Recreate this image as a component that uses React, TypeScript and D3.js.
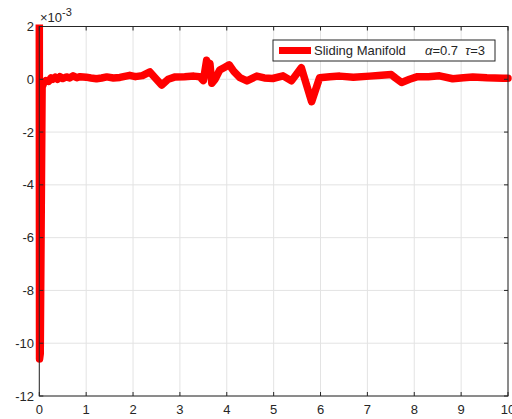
import React from "react";
import * as d3 from "d3";

const tValues = [0, 0.005, 0.02, 0.06, 0.1, 0.14, 0.2, 0.25, 0.29, 0.34, 0.39, 0.44, 0.5, 0.58, 0.65, 0.72, 0.8, 0.87, 1.0, 1.1, 1.22, 1.33, 1.44, 1.58, 1.72, 1.85, 1.93, 2.05, 2.2, 2.36, 2.45, 2.61, 2.75, 2.9, 3.1, 3.3, 3.42, 3.5, 3.57, 3.61, 3.64, 3.68, 3.75, 3.85, 3.95, 4.05, 4.15, 4.28, 4.43, 4.64, 4.8, 4.98, 5.2, 5.38, 5.59, 5.81, 5.98, 6.2, 6.41, 6.7, 7.05, 7.3, 7.51, 7.6, 7.73, 7.9, 8.07, 8.3, 8.54, 8.82, 9.05, 9.25, 9.55, 9.89, 10];
const sValues = [2.5, -10.6, -10.4, -0.3, -0.12, -0.05, -0.08, 0.05, 0.0, 0.08, 0.0, 0.1, 0.03, 0.09, 0.05, 0.13, 0.06, 0.1, 0.08, 0.05, 0.02, 0.05, 0.09, 0.05, 0.07, 0.12, 0.15, 0.1, 0.14, 0.28, 0.1, -0.22, 0.0, 0.09, 0.1, 0.12, 0.1, -0.05, 0.72, 0.4, 0.6, -0.15, 0.0, 0.35, 0.45, 0.55, 0.3, 0.06, -0.06, 0.12, 0.05, 0.03, 0.13, -0.06, 0.44, -0.85, 0.06, 0.1, 0.12, 0.08, 0.12, 0.15, 0.18, 0.05, -0.12, 0.0, 0.1, 0.1, 0.13, 0.02, 0.06, 0.09, 0.06, 0.04, 0.04];

const xTicks = [0, 1, 2, 3, 4, 5, 6, 7, 8, 9, 10];
const yTicks = [2, 0, -2, -4, -6, -8, -10, -12];
const legendLabel = "Sliding Manifold";

export default function App() {
  const left = 39.3, right = 508, top = 26.5, bottom = 396;
  const x = d3.scaleLinear().domain([0, 10]).range([left, right]);
  const y = d3.scaleLinear().domain([-12, 2]).range([bottom, top]);
  const line = d3.line<number>().x((_, i) => x(tValues[i])).y((d) => y(d));
  const path = line(sValues) || "";
  const font = "'Liberation Sans', Arial, sans-serif";
  const axisColor = "#262626";
  return (
    <svg width={512} height={419} style={{ position: "absolute", left: 0, top: 0, background: "#fff" }} fontFamily={font}>
      <rect x={0} y={0} width={512} height={419} fill="#fff" />
      <defs>
        <clipPath id="plot">
          <rect x={left - 6} y={top - 2} width={right - left + 10} height={bottom - top + 4} />
        </clipPath>
      </defs>
      {xTicks.map((t) => (
        <line key={"gx" + t} x1={x(t)} x2={x(t)} y1={top} y2={bottom} stroke="#e3e3e3" strokeWidth={1} />
      ))}
      {yTicks.map((t) => (
        <line key={"gy" + t} x1={left} x2={right} y1={y(t)} y2={y(t)} stroke="#e3e3e3" strokeWidth={1} />
      ))}
      <path d={path} fill="none" stroke="#ff0000" strokeWidth={7.5} strokeLinejoin="round" strokeLinecap="round" clipPath="url(#plot)" />
      <rect x={left} y={top} width={right - left} height={bottom - top} fill="none" stroke={axisColor} strokeWidth={1} />
      {xTicks.map((t) => (
        <g key={"xt" + t}>
          <line x1={x(t)} x2={x(t)} y1={bottom} y2={bottom - 4} stroke={axisColor} />
          <line x1={x(t)} x2={x(t)} y1={top} y2={top + 4} stroke={axisColor} />
          <text x={x(t)} y={414} textAnchor="middle" fontSize={13} fill={axisColor}>{t}</text>
        </g>
      ))}
      {yTicks.map((t) => (
        <g key={"yt" + t}>
          <line x1={left} x2={left + 4} y1={y(t)} y2={y(t)} stroke={axisColor} />
          <line x1={right} x2={right - 4} y1={y(t)} y2={y(t)} stroke={axisColor} />
          <text x={34} y={y(t) + 4.5} textAnchor="end" fontSize={13} fill={axisColor}>{t}</text>
        </g>
      ))}
      <text x={40} y={22} fontSize={13} fill={axisColor}>
        {"\u00d710"}
        <tspan dy={-6} fontSize={11}>-3</tspan>
      </text>
      <rect x={273} y={40} width={222} height={21} fill="#fff" stroke={axisColor} strokeWidth={1} />
      <line x1={279} x2={311} y1={50.5} y2={50.5} stroke="#ff0000" strokeWidth={7} />
      <text x={314} y={55} fontSize={13} fill={axisColor}>{legendLabel}</text>
      <text x={425} y={55} fontSize={13} fill={axisColor}>
        <tspan fontStyle="italic">α</tspan>=0.7{"\u00a0\u00a0"}<tspan fontStyle="italic">τ</tspan>=3
      </text>
    </svg>
  );
}
